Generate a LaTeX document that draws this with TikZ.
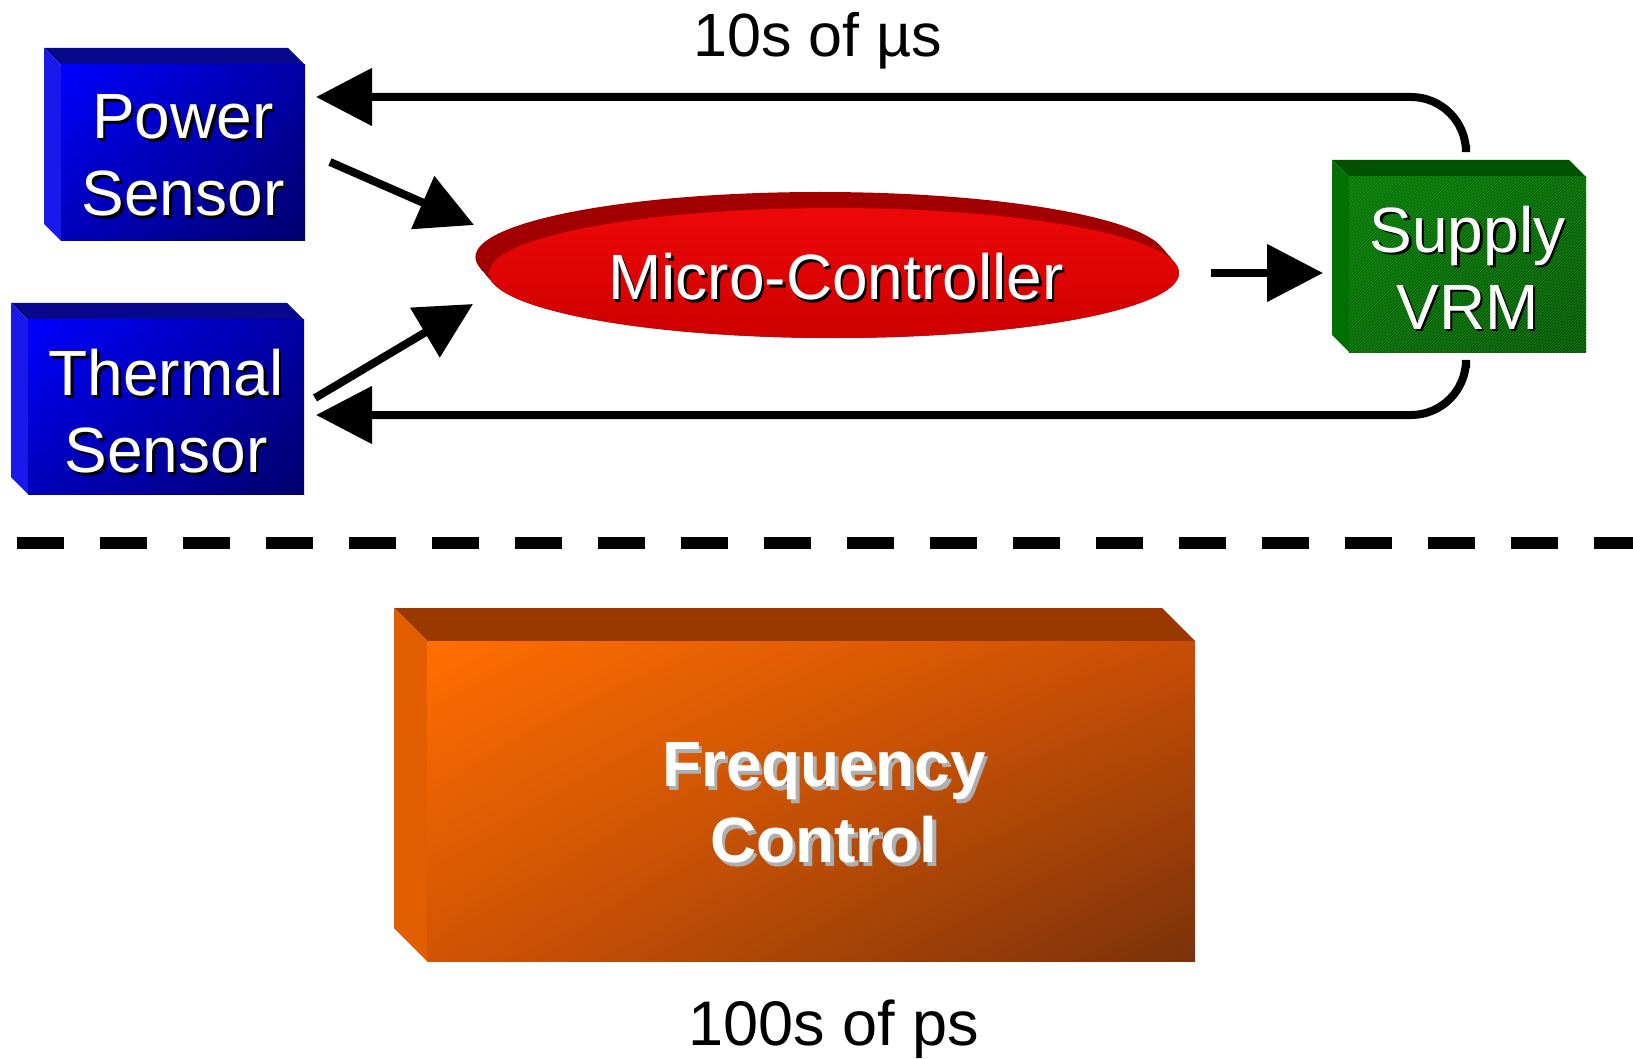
\documentclass[tikz,border=0pt]{standalone}
\usepackage{fontspec}
\setmainfont{Liberation Sans}
\usetikzlibrary{arrows.meta,patterns,calc,shapes.geometric,shadings}

\definecolor{bTop}{RGB}{8,8,140}
\definecolor{bLeft}{RGB}{25,25,235}
\definecolor{bUL}{RGB}{0,0,255}
\definecolor{bUR}{RGB}{0,0,165}
\definecolor{bLL}{RGB}{0,0,185}
\definecolor{bLR}{RGB}{0,0,110}
\definecolor{gTop}{RGB}{0,82,0}
\definecolor{gLeft}{RGB}{0,112,0}
\definecolor{gUL}{RGB}{0,122,0}
\definecolor{gUR}{RGB}{0,100,0}
\definecolor{gLL}{RGB}{0,100,0}
\definecolor{gLR}{RGB}{0,72,0}
\definecolor{gHatch}{RGB}{40,140,40}
\definecolor{oTop}{RGB}{153,57,0}
\definecolor{oLeft}{RGB}{226,92,0}
\definecolor{oUL}{RGB}{255,110,0}
\definecolor{oUR}{RGB}{200,78,5}
\definecolor{oLL}{RGB}{210,84,4}
\definecolor{oLR}{RGB}{122,50,10}
\definecolor{rRim}{RGB}{162,0,0}
\definecolor{rTop}{RGB}{238,8,8}
\definecolor{rBot}{RGB}{205,0,0}
\definecolor{shGray}{RGB}{175,175,175}

% #1 x1, #2 y1, #3 x2, #4 y2 (front face), #5 depth, #6 top, #7 left, #8 front shading
\newcommand\cuboidfaces[8]{%
  \fill[#6] (#1,#2) -- (#1-#5,#2-#5) -- (#3-#5,#2-#5) -- (#3,#2) -- cycle;
  \fill[#7] (#1,#2) -- (#1-#5,#2-#5) -- (#1-#5,#4-#5) -- (#1,#4) -- cycle;
  \shade[#8] (#1,#2) rectangle (#3,#4);
}

\begin{document}
\begin{tikzpicture}[x=1pt,y=-1pt,
  lbl/.style={font=\fontsize{64}{77}\selectfont, align=center, inner sep=0pt, text=white},
  lblsh/.style={lbl, text=black},
  boldlbl/.style={font=\fontsize{64}{76}\selectfont\bfseries, align=center, inner sep=0pt, text=white},
  boldsh/.style={boldlbl, text=shGray},
  note/.style={inner sep=0pt, anchor=base, text=black},
  arr/.style={line width=8pt, -{Triangle[length=56pt,width=56pt]}},
  facebox/.style={inner sep=0pt, draw=none}]

\fill[white] (0,0) rectangle (1633,1059);
\useasboundingbox (0,0) rectangle (1633,1059);

% ---- Power Sensor ----
\cuboidfaces{61}{65}{305}{241}{17}{bTop}{bLeft}{upper left=bUL,upper right=bUR,lower left=bLL,lower right=bLR}
\node[facebox, minimum width=244pt, minimum height=176pt] (powerbox) at (183,153) {};
\node[lblsh] (powersh) at (185.5,158) {Power\\Sensor};
\node[lbl] (power) at (183,155.5) {Power\\Sensor};

% ---- Thermal Sensor ----
\cuboidfaces{28}{320}{304}{494}{17}{bTop}{bLeft}{upper left=bUL,upper right=bUR,lower left=bLL,lower right=bLR}
\node[facebox, minimum width=276pt, minimum height=174pt] (thermbox) at (166,407) {};
\node[lblsh] (thermsh) at (168.5,414) {Thermal\\Sensor};
\node[lbl] (therm) at (166,411.5) {Thermal\\Sensor};

% ---- Supply VRM ----
\cuboidfaces{1349}{177}{1586}{352}{17}{gTop}{gLeft}{upper left=gUL,upper right=gUR,lower left=gLL,lower right=gLR}
\fill[pattern=north east lines, pattern color=gHatch] (1349,177) rectangle (1586,352);
\node[facebox, minimum width=237pt, minimum height=175pt] (vrmbox) at (1467.5,264.5) {};
\node[lblsh] (vrmsh) at (1470,270) {Supply\\VRM};
\node[lbl] (vrm) at (1467.5,267.5) {Supply\\VRM};

% ---- Micro-Controller (disc) ----
\foreach \k in {0,1,...,16} {
  \fill[rRim] (834-0.85*\k,273-\k) ellipse [x radius=345, y radius=65];
}
\shade[top color=rTop, bottom color=rBot] (834,273) ellipse [x radius=345, y radius=65];
\node[facebox, ellipse, minimum width=690pt, minimum height=130pt] (mcbox) at (834,273) {};
\node[note, lbl, text=black] (mcsh) at (838.5,302.5) {Micro-Controller};
\node[note, lbl, text=white] (mc) at (836,300) {Micro-Controller};

% ---- Frequency Control ----
\cuboidfaces{427}{641}{1195}{961}{33}{oTop}{oLeft}{upper left=oUL,upper right=oUR,lower left=oLL,lower right=oLR}
\node[facebox, minimum width=768pt, minimum height=320pt] (freqbox) at (811,801) {};
\node[boldsh] (freqsh) at (827.5,806.5) {Frequency\\Control};
\node[boldlbl] (freq) at (824,803) {Frequency\\Control};

% ---- timing labels ----
\node[note, font=\fontsize{61}{73}\selectfont] (slow) at (818,57) {10s of µs};
\node[note, font=\fontsize{63}{75}\selectfont] (fast) at (834,1045) {100s of ps};

% ---- dashed separator ----
\coordinate (dashL) at (17,543);
\coordinate (dashR) at (1633,543);
\draw[line width=12pt, dash pattern=on 47pt off 36pt] (dashL) -- (dashR);

% ---- connector end points ----
\coordinate (pwout) at (330,162);
\coordinate (mcin1) at (474,225);
\coordinate (thout) at (315,398);
\coordinate (mcin2) at (473,304);
\coordinate (mcout) at (1211,273);
\coordinate (vrmin) at (1323,273);
\coordinate (vrmtop) at (1466,145);
\coordinate (pwin) at (316,97);
\coordinate (vrmbot) at (1466,368);
\coordinate (thin) at (316,415);

\draw[arr] (pwout) -- (mcin1);
\draw[arr] (thout) -- (mcin2);
\draw[arr] (mcout) -- (vrmin);
\draw[arr, rounded corners=55pt] (vrmtop) |- (pwin);
\draw[arr, rounded corners=55pt] (vrmbot) |- (thin);

\end{tikzpicture}
\end{document}
